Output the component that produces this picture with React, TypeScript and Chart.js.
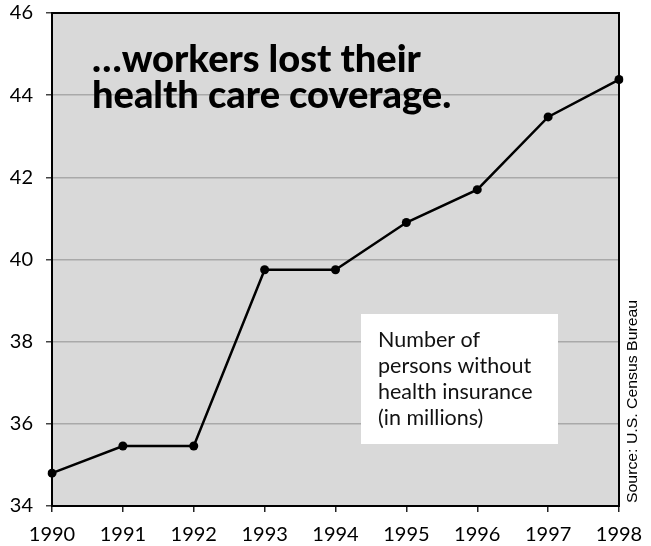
import React, { useEffect, useRef } from 'react';
import { Chart, registerables } from 'chart.js';

Chart.register(...registerables);

const years = ['1990', '1991', '1992', '1993', '1994', '1995', '1996', '1997', '1998'];
const uninsuredMillions = [34.8, 35.46, 35.46, 39.75, 39.75, 40.9, 41.7, 43.47, 44.38];
const yMin = 34;
const yMax = 46;
const yStep = 2;
const titleLines = ['…workers lost their', 'health care coverage.'];
const noteLines = ['Number of', 'persons without', 'health insurance', '(in millions)'];
const sourceText = 'Source: U.S. Census Bureau';

const FONT = 'Lato, "DejaVu Sans", sans-serif';

const decor = {
  id: 'decor',
  beforeDraw(chart: any) {
    const { ctx, chartArea: a } = chart;
    ctx.save();
    ctx.fillStyle = '#d9d9d9';
    ctx.fillRect(a.left, a.top, a.right - a.left, a.bottom - a.top);
    ctx.restore();
  },
  beforeDatasetsDraw(chart: any) {
    const { ctx, chartArea: a } = chart;
    ctx.save();
    ctx.strokeStyle = '#000';
    ctx.lineWidth = 2;
    ctx.strokeRect(a.left, a.top, a.right - a.left, a.bottom - a.top);
    ctx.fillStyle = '#000';
    ctx.font = `900 38px ${FONT}`;
    ctx.textBaseline = 'alphabetic';
    ctx.textAlign = 'left';
    ctx.fillText(titleLines[0], a.left + 40, 72);
    ctx.fillText(titleLines[1], a.left + 40, 108);
    ctx.restore();
  },
  afterDatasetsDraw(chart: any) {
    const { ctx } = chart;
    ctx.save();
    ctx.fillStyle = '#fff';
    ctx.fillRect(361, 314, 197, 130);
    ctx.fillStyle = '#111';
    ctx.font = `400 21.5px ${FONT}`;
    ctx.textAlign = 'left';
    ctx.textBaseline = 'alphabetic';
    noteLines.forEach((t, i) => ctx.fillText(t, 378, 347 + i * 26));
    ctx.translate(637, 503);
    ctx.rotate(-Math.PI / 2);
    ctx.scale(1.13, 1);
    ctx.font = `400 14px "Liberation Sans", Arial, sans-serif`;
    ctx.fillStyle = '#000';
    ctx.fillText(sourceText, 0, 0);
    ctx.restore();
  },
};

export default function App() {
  const ref = useRef<HTMLCanvasElement | null>(null);
  useEffect(() => {
    const canvas = ref.current;
    if (!canvas) return;
    const chart = new Chart(canvas, {
      type: 'line',
      data: {
        labels: years,
        datasets: [
          {
            data: uninsuredMillions,
            borderColor: '#000',
            backgroundColor: '#000',
            borderWidth: 2.5,
            pointRadius: 4.5,
            pointBackgroundColor: '#000',
            pointBorderWidth: 0,
            tension: 0,
          },
        ],
      },
      options: {
        responsive: false,
        animation: false,
        events: [],
        layout: { padding: { top: 13, right: 32, left: 0, bottom: 0 } },
        plugins: { legend: { display: false }, tooltip: { enabled: false } },
        scales: {
          x: {
            offset: false,
            afterFit: (s: any) => {
              s.height = 40;
              s.paddingLeft = 0;
              s.paddingRight = 0;
            },
            grid: { drawOnChartArea: false, drawTicks: true, tickLength: 6, tickColor: '#222', lineWidth: 1.5 },
            border: { display: false },
            ticks: { color: '#000', font: { family: FONT, size: 20 }, padding: 11, maxRotation: 0, autoSkip: false },
          },
          y: {
            min: yMin,
            max: yMax,
            afterFit: (s: any) => {
              s.width = 52;
              s.paddingTop = 0;
              s.paddingBottom = 0;
            },
            grid: { color: '#a9a9a9', lineWidth: 1.5, drawTicks: true, tickLength: 6, tickColor: '#444' },
            border: { display: false },
            ticks: { stepSize: yStep, color: '#000', font: { family: FONT, size: 20 }, padding: 13 },
          },
        },
      },
      plugins: [decor],
    });
    return () => chart.destroy();
  }, []);
  return (
    <div style={{ position: 'fixed', left: 0, top: 0, width: 651, height: 546, background: '#fff' }}>
      <canvas ref={ref} width={651} height={546} style={{ display: 'block' }} />
    </div>
  );
}
